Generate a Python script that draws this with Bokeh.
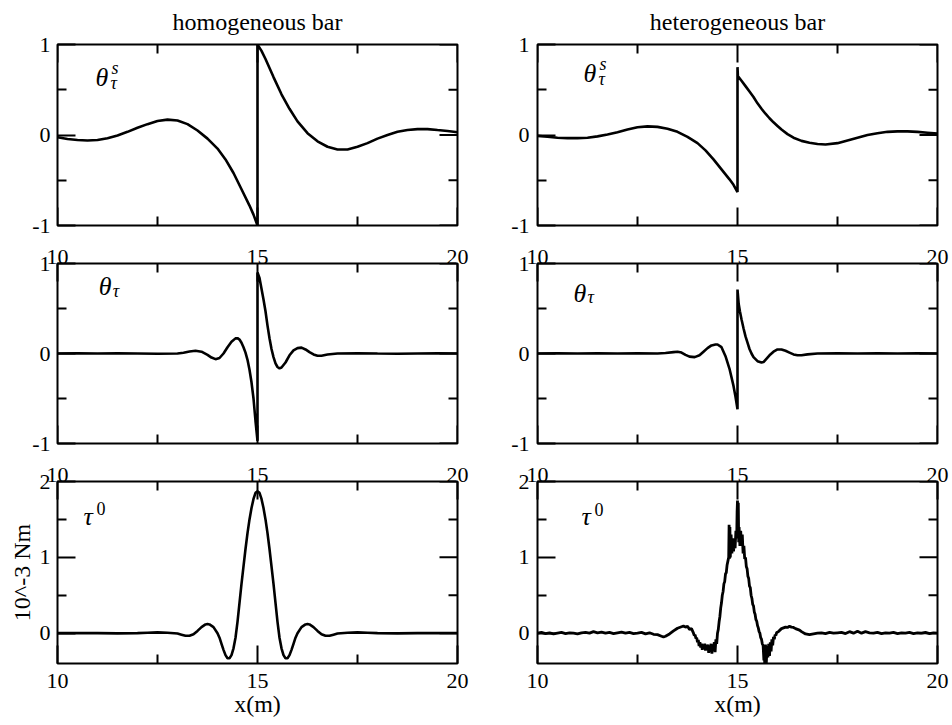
import math
from bokeh.plotting import figure
from bokeh.models import FixedTicker, LinearAxis, Range1d, Label
from bokeh.layouts import column, row
from bokeh.embed import file_html
from bokeh.resources import INLINE

FONT = "Liberation Serif"
TICK_FS = "22px"

# ---------------- data ----------------
column_titles = ["homogeneous bar", "heterogeneous bar"]
x_ticks = [10, 15, 20]
x_minor = [12.5, 17.5]
theta_yticks = [-1, 0, 1]
theta_yminor = [-0.5, 0.5]
tau_yticks = [0, 1, 2]
tau_yminor = [0.5, 1.5]

# theta_tau^s, homogeneous bar
hom_thetas_x = [10.0, 10.25, 10.5, 10.75, 11.0, 11.25, 11.5, 11.75, 12.0, 12.25,
                12.5, 12.75, 13.0, 13.25, 13.5, 13.75, 14.0, 14.2, 14.4, 14.6,
                14.8, 14.9, 15.0, 15.0, 15.1, 15.2, 15.4, 15.6, 15.8, 16.0,
                16.25, 16.5, 16.75, 17.0, 17.25, 17.5, 17.75, 18.0, 18.25, 18.5,
                18.75, 19.0, 19.25, 19.5, 19.75, 20.0]
hom_thetas_y = [-0.025, -0.045, -0.055, -0.06, -0.055, -0.035, -0.005, 0.035, 0.08, 0.12,
                0.155, 0.17, 0.16, 0.12, 0.05, -0.04, -0.15, -0.27, -0.42, -0.6,
                -0.78, -0.88, -1.0, 1.0, 0.93, 0.84, 0.64, 0.45, 0.29, 0.15,
                0.02, -0.07, -0.13, -0.16, -0.16, -0.13, -0.09, -0.04, 0.0, 0.035,
                0.055, 0.065, 0.065, 0.055, 0.045, 0.03]

# theta_tau^s, heterogeneous bar
het_thetas_x = [10.0, 10.25, 10.5, 10.75, 11.0, 11.25, 11.5, 11.75, 12.0, 12.25,
                12.5, 12.75, 13.0, 13.25, 13.5, 13.75, 14.0, 14.2, 14.4, 14.6,
                14.8, 14.9, 15.0, 15.0, 15.01, 15.1, 15.2, 15.3, 15.4, 15.5,
                15.6, 15.7, 15.8, 15.9, 16.0, 16.1, 16.25, 16.4, 16.6, 16.8,
                17.0, 17.2, 17.5, 17.75, 18.0, 18.25, 18.5, 18.75, 19.0, 19.25,
                19.5, 19.75, 20.0]
het_thetas_y = [-0.01, -0.02, -0.03, -0.035, -0.035, -0.03, -0.015, 0.005, 0.03, 0.06,
                0.085, 0.095, 0.09, 0.07, 0.035, -0.02, -0.09, -0.17, -0.27, -0.38,
                -0.49, -0.55, -0.63, 0.75, 0.65, 0.6, 0.54, 0.48, 0.42, 0.35,
                0.29, 0.235, 0.185, 0.14, 0.1, 0.06, 0.01, -0.03, -0.065, -0.085,
                -0.1, -0.105, -0.09, -0.06, -0.03, 0.0, 0.02, 0.035, 0.04, 0.04,
                0.035, 0.025, 0.015]

# theta_tau, homogeneous bar
hom_theta_x = [10.0, 10.5, 11.0, 11.5, 12.0, 12.5, 13.0, 13.15, 13.3, 13.45,
               13.6, 13.75, 13.85, 13.95, 14.05, 14.15, 14.25, 14.35, 14.45, 14.5,
               14.55, 14.6, 14.65, 14.7, 14.75, 14.8, 14.85, 14.9, 14.95, 15.0,
               15.0, 15.05, 15.1, 15.15, 15.2, 15.25, 15.3, 15.35, 15.4, 15.45,
               15.5, 15.55, 15.6, 15.7, 15.8, 15.9, 16.0, 16.1, 16.2, 16.3,
               16.4, 16.5, 16.6, 16.75, 17.0, 17.5, 18.0, 18.5, 19.0, 19.5,
               20.0]
hom_theta_y = [0.0, 0.002, 0.0, 0.003, 0.0, -0.003, 0.0, 0.008, 0.022, 0.03,
               0.02, -0.015, -0.045, -0.063, -0.05, 0.0, 0.07, 0.13, 0.168, 0.17,
               0.155, 0.12, 0.07, 0.01, -0.07, -0.18, -0.32, -0.5, -0.75, -0.97,
               0.9, 0.84, 0.72, 0.6, 0.47, 0.31, 0.17, 0.05, -0.04, -0.11,
               -0.15, -0.165, -0.155, -0.1, -0.02, 0.035, 0.06, 0.065, 0.045, 0.015,
               -0.01, -0.025, -0.025, -0.012, 0.0, 0.003, 0.0, -0.002, 0.0, 0.002,
               0.0]

# theta_tau, heterogeneous bar
het_theta_x = [10.0, 10.5, 11.0, 11.5, 12.0, 12.5, 13.0, 13.2, 13.4, 13.5,
               13.6, 13.7, 13.8, 13.93, 14.05, 14.15, 14.25, 14.35, 14.45, 14.5,
               14.6, 14.7, 14.8, 14.9, 14.95, 15.0, 15.0, 15.03, 15.06, 15.1,
               15.15, 15.2, 15.25, 15.3, 15.35, 15.4, 15.5, 15.6, 15.65, 15.7,
               15.8, 15.9, 16.0, 16.1, 16.2, 16.3, 16.4, 16.5, 16.6, 16.75,
               17.0, 17.5, 18.0, 18.5, 19.0, 19.5, 20.0]
het_theta_y = [0.0, 0.002, 0.0, 0.003, 0.0, 0.002, 0.0, 0.005, 0.015, 0.02,
               0.01, -0.015, -0.035, -0.04, -0.02, 0.02, 0.06, 0.09, 0.1, 0.1,
               0.07, -0.03, -0.17, -0.36, -0.48, -0.62, 0.71, 0.55, 0.47, 0.38,
               0.28, 0.19, 0.12, 0.05, 0.0, -0.04, -0.085, -0.1, -0.095, -0.07,
               -0.02, 0.02, 0.045, 0.045, 0.03, 0.01, -0.01, -0.02, -0.02, -0.01,
               0.0, 0.002, 0.0, 0.002, 0.0, 0.002, 0.0]

# tau^0, homogeneous bar (10^-3 Nm)
hom_tau_x = [10.0, 10.5, 11.0, 11.5, 12.0, 12.25, 12.5, 12.75, 13.0, 13.1,
             13.2, 13.3, 13.4, 13.5, 13.6, 13.7, 13.75, 13.8, 13.9, 14.0,
             14.05, 14.1, 14.15, 14.2, 14.25, 14.3, 14.35, 14.4, 14.45, 14.5,
             14.55, 14.6, 14.65, 14.7, 14.75, 14.8, 14.85, 14.9, 14.95, 15.0,
             15.05, 15.1, 15.15, 15.2, 15.25, 15.3, 15.35, 15.4, 15.45, 15.5,
             15.55, 15.6, 15.65, 15.7, 15.75, 15.8, 15.85, 15.9, 15.95, 16.0,
             16.1, 16.2, 16.25, 16.3, 16.4, 16.5, 16.6, 16.7, 16.8, 16.9,
             17.0, 17.25, 17.5, 17.75, 18.0, 18.5, 19.0, 19.5, 20.0]
hom_tau_y = [0.0, 0.002, 0.0, -0.003, 0.0, 0.005, 0.01, 0.005, -0.005, -0.02,
             -0.035, -0.035, -0.015, 0.03, 0.08, 0.115, 0.12, 0.115, 0.08, 0.0,
             -0.06, -0.14, -0.22, -0.29, -0.33, -0.33, -0.29, -0.2, -0.06, 0.15,
             0.4, 0.65, 0.88, 1.11, 1.32, 1.5, 1.65, 1.77, 1.85, 1.87,
             1.85, 1.77, 1.65, 1.5, 1.32, 1.11, 0.88, 0.65, 0.4, 0.15,
             -0.06, -0.2, -0.29, -0.33, -0.33, -0.29, -0.22, -0.14, -0.06, 0.0,
             0.08, 0.115, 0.12, 0.115, 0.08, 0.03, -0.015, -0.035, -0.035, -0.02,
             -0.005, 0.005, 0.01, 0.005, 0.0, -0.003, 0.0, 0.002, 0.0]

# tau^0, heterogeneous bar (10^-3 Nm), noisy
het_tau_x = [10.0, 10.1, 10.2, 10.3, 10.4, 10.5, 10.6, 10.7, 10.8, 10.9,
             11.0, 11.1, 11.2, 11.3, 11.4, 11.5, 11.6, 11.7, 11.8, 11.9,
             12.0, 12.1, 12.2, 12.3, 12.4, 12.5, 12.6, 12.7, 12.8, 12.9,
             13.0, 13.1, 13.15, 13.2, 13.3, 13.4, 13.5, 13.6, 13.65, 13.7,
             13.75, 13.8, 13.85,
             13.9, 13.92, 13.94, 13.96, 13.98, 14.0, 14.02, 14.04, 14.06, 14.08,
             14.1, 14.12, 14.14, 14.16, 14.18, 14.2, 14.22, 14.24, 14.26, 14.28,
             14.3, 14.32, 14.34, 14.36, 14.38, 14.4, 14.42, 14.44, 14.46, 14.48,
             14.5, 14.52, 14.54, 14.56, 14.58, 14.6, 14.62, 14.64, 14.66, 14.68,
             14.7, 14.72, 14.74, 14.76, 14.78, 14.79, 14.8, 14.81, 14.82, 14.84,
             14.86, 14.88, 14.9, 14.92, 14.94, 14.96, 14.98, 14.99, 15.0, 15.01,
             15.02, 15.03, 15.04, 15.06, 15.08, 15.1, 15.12, 15.14, 15.16, 15.18,
             15.2, 15.22, 15.24, 15.26, 15.28, 15.3, 15.32, 15.34, 15.36, 15.38,
             15.4, 15.42, 15.44, 15.46, 15.48, 15.5, 15.52, 15.54, 15.56, 15.58,
             15.6, 15.62, 15.64, 15.66, 15.67, 15.68, 15.7, 15.72, 15.74, 15.76,
             15.78, 15.8, 15.82, 15.84, 15.86, 15.88, 15.9, 15.92, 15.94, 15.96,
             15.98,
             16.02, 16.06, 16.1, 16.15, 16.2, 16.25, 16.3, 16.35, 16.4, 16.45,
             16.5, 16.55, 16.6, 16.7, 16.8, 16.9, 17.0, 17.1, 17.2, 17.3,
             17.4, 17.5, 17.6, 17.7, 17.8, 17.9, 18.0, 18.1, 18.2, 18.3,
             18.4, 18.5, 18.6, 18.7, 18.8, 18.9, 19.0, 19.1, 19.2, 19.3,
             19.4, 19.5, 19.6, 19.7, 19.8, 19.9, 20.0]
het_tau_y = [0.0, 0.01, -0.005, 0.005, -0.01, 0.0, 0.01, -0.005, 0.005, 0.0,
             -0.01, 0.005, 0.01, 0.0, 0.02, 0.005, 0.015, 0.0, 0.01, -0.005,
             0.005, 0.015, 0.0, 0.01, -0.005, 0.0, 0.01, -0.01, 0.005, -0.015,
             -0.02, -0.04, -0.05, -0.04, -0.01, 0.03, 0.065, 0.085, 0.095, 0.08,
             0.09, 0.05, 0.06,
             0.0, -0.03, -0.02, -0.07, -0.06, -0.12, -0.09, -0.17, -0.12, -0.19,
             -0.14, -0.22, -0.15, -0.2, -0.14, -0.23, -0.16, -0.21, -0.15, -0.26,
             -0.17, -0.22, -0.14, -0.27, -0.15, -0.2, -0.12, -0.25, -0.08, -0.14,
             0.0, 0.05, 0.15, 0.22, 0.33, 0.4, 0.5, 0.55, 0.65, 0.68,
             0.78, 0.8, 0.9, 0.95, 1.0, 1.43, 0.98, 1.4, 1.0, 1.3,
             1.05, 1.25, 1.08, 1.2, 1.12, 1.35, 1.25, 1.6, 1.75, 1.25,
             1.72, 1.2, 1.4, 1.15, 1.35, 1.15, 1.3, 1.05, 1.15, 0.98,
             1.0, 0.88, 0.85, 0.75, 0.72, 0.62, 0.6, 0.5, 0.46, 0.38,
             0.36, 0.28, 0.25, 0.18, 0.16, 0.1, 0.07, 0.02, 0.0, -0.06,
             -0.08, -0.14, -0.16, -0.36, -0.15, -0.4, -0.15, -0.4, -0.17, -0.32,
             -0.14, -0.3, -0.12, -0.24, -0.08, -0.16, -0.05, -0.08, -0.02, -0.03,
             0.01,
             0.02, 0.04, 0.06, 0.07, 0.08, 0.075, 0.09, 0.08, 0.075, 0.06,
             0.05, 0.04, 0.02, -0.01, -0.02, -0.01, 0.0, 0.005, -0.005, 0.01,
             0.0, 0.005, 0.01, -0.005, 0.02, 0.0, 0.025, 0.0, 0.02, 0.005,
             0.0, 0.01, -0.005, 0.005, 0.0, 0.01, -0.005, 0.005, 0.0, 0.01,
             -0.005, 0.005, 0.0, 0.01, -0.005, 0.005, 0.0]

for _a, _b in [(hom_thetas_x, hom_thetas_y), (het_thetas_x, het_thetas_y),
               (hom_theta_x, hom_theta_y), (het_theta_x, het_theta_y),
               (hom_tau_x, hom_tau_y), (het_tau_x, het_tau_y)]:
    assert len(_a) == len(_b), (len(_a), len(_b))

# ---------------- helpers ----------------
FRAME_W = 400


def add_axis(p, side, ticks, minor, standoff):
    ax = LinearAxis(ticker=FixedTicker(ticks=ticks, minor_ticks=minor))
    ax.axis_line_color = None
    ax.major_tick_in = 18
    ax.major_tick_out = 0
    ax.minor_tick_in = 9
    ax.minor_tick_out = 0
    ax.major_tick_line_color = "black"
    ax.minor_tick_line_color = "black"
    ax.major_tick_line_width = 2
    ax.minor_tick_line_width = 2
    ax.major_label_standoff = standoff
    ax.major_label_text_font = FONT
    ax.major_label_text_color = "black"
    ax.major_label_text_font_size = TICK_FS
    ax.major_label_overrides = {t: ("-%g" % abs(t) if t < 0 else "%g" % t) for t in ticks}
    p.add_layout(ax, side)
    return ax


def edge_ticks(p, side, ticks, minor, xr, yr):
    """Inward ticks without labels on a frame edge (drawn as screen-length rays)."""
    for vals, ln in ((ticks, 18), (minor, 9)):
        n = len(vals)
        if side == "right":
            xs, ys, ang = [xr[1]] * n, vals, math.pi
        elif side == "above":
            xs, ys, ang = vals, [yr[1]] * n, -math.pi / 2
        else:  # below
            xs, ys, ang = vals, [yr[0]] * n, math.pi / 2
        p.ray(x=xs, y=ys, length=ln, length_units="screen", angle=ang,
              line_color="black", line_width=2)


def make_panel(xs, ys, yr, yticks, yminor, frame_h, top, bottom, left, right,
               above_labels, below_labels, left_standoff, lw=2.6):
    xr = (10, 20)
    p = figure(width=left + FRAME_W + right, height=top + frame_h + bottom,
               x_range=Range1d(*xr), y_range=Range1d(*yr),
               output_backend="svg", toolbar_location=None,
               x_axis_location=None, y_axis_location=None,
               min_border_left=left, min_border_right=right,
               min_border_top=top, min_border_bottom=bottom)
    p.grid.visible = False
    p.background_fill_color = "white"
    p.border_fill_color = "white"
    p.outline_line_color = "black"
    p.outline_line_width = 2
    p.outline_line_alpha = 1.0
    add_axis(p, "left", yticks, yminor, left_standoff)
    edge_ticks(p, "right", yticks, yminor, xr, yr)
    if above_labels:
        add_axis(p, "above", x_ticks, x_minor, 0)
    else:
        edge_ticks(p, "above", x_ticks, x_minor, xr, yr)
    if below_labels:
        add_axis(p, "below", x_ticks, x_minor, 10)
    else:
        edge_ticks(p, "below", x_ticks, x_minor, xr, yr)
    p.line(xs, ys, line_color="black", line_width=lw)
    return p


def sym(p, x, y, main, sub=None, sup=None, sub_dx=15, sup_dx=16, sub_dy=-6, sup_dy=9):
    p.add_layout(Label(x=x, y=y, text=main, text_font=FONT, text_font_style="italic",
                       text_font_size="26px", text_color="black", text_baseline="alphabetic"))
    if sup is not None:
        style = "normal" if sup.isdigit() else "italic"
        p.add_layout(Label(x=x, y=y, x_offset=sup_dx, y_offset=sup_dy, text=sup,
                           text_font=FONT, text_font_style=style, text_font_size="18px",
                           text_color="black", text_baseline="alphabetic"))
    if sub is not None:
        p.add_layout(Label(x=x, y=y, x_offset=sub_dx, y_offset=sub_dy, text=sub,
                           text_font=FONT, text_font_style="italic", text_font_size="18px",
                           text_color="black", text_baseline="alphabetic"))


def set_title(p, txt):
    p.title.text = txt
    p.title.align = "center"
    p.title.vertical_align = "top"
    p.title.text_font = FONT
    p.title.text_font_size = "24px"
    p.title.text_font_style = "normal"
    p.title.text_color = "black"
    p.title.standoff = 16


# ---------------- panels ----------------
L1, R1, L2, R2 = 57, 40, 40, 14

pa = make_panel(hom_thetas_x, hom_thetas_y, (-1, 1), theta_yticks, theta_yminor,
                182, 43, 13, L1, R1, False, False, 7)
pb = make_panel(het_thetas_x, het_thetas_y, (-1, 1), theta_yticks, theta_yminor,
                182, 43, 13, L2, R2, False, False, 8)
pc = make_panel(hom_theta_x, hom_theta_y, (-1, 1), theta_yticks, theta_yminor,
                180, 25, 13, L1, R1, True, False, 7)
pd = make_panel(het_theta_x, het_theta_y, (-1, 1), theta_yticks, theta_yminor,
                180, 25, 13, L2, R2, True, False, 8)
pe = make_panel(hom_tau_x, hom_tau_y, (-0.4, 2), tau_yticks, tau_yminor,
                182, 25, 62, L1, R1, True, True, 7)
pf = make_panel(het_tau_x, het_tau_y, (-0.4, 2), tau_yticks, tau_yminor,
                182, 25, 62, L2, R2, True, True, 8, lw=2.8)

set_title(pa, column_titles[0])
set_title(pb, column_titles[1])

# y axis label (bottom left)
ylab = pe.left[0]
ylab.axis_label = "10^-3 Nm"
ylab.axis_label_text_font = FONT
ylab.axis_label_text_font_style = "normal"
ylab.axis_label_text_font_size = "24px"
ylab.axis_label_text_color = "black"
ylab.axis_label_standoff = 2

# x axis labels
for p in (pe, pf):
    ax = p.below[0]
    ax.axis_label = "x(m)"
    ax.axis_label_text_font = FONT
    ax.axis_label_text_font_style = "normal"
    ax.axis_label_text_font_size = "24px"
    ax.axis_label_text_color = "black"
    ax.axis_label_standoff = 0

# panel symbols
sym(pa, 10.95, 0.637, "θ", sub="τ", sup="s")
sym(pb, 11.15, 0.68, "θ", sub="τ", sup="s")
sym(pc, 11.03, 0.74, "θ", sub="τ", sub_dy=-4, sub_dx=14)
sym(pd, 10.9, 0.67, "θ", sub="τ", sub_dy=-4, sub_dx=14)
sym(pe, 10.65, 1.54, "τ", sup="0", sup_dx=13, sup_dy=8)
sym(pf, 11.1, 1.54, "τ", sup="0", sup_dx=13, sup_dy=7)

layout = column(row(pa, pb), row(pc, pd), row(pe, pf))

open("out.html", "w").write(file_html(layout, INLINE))
